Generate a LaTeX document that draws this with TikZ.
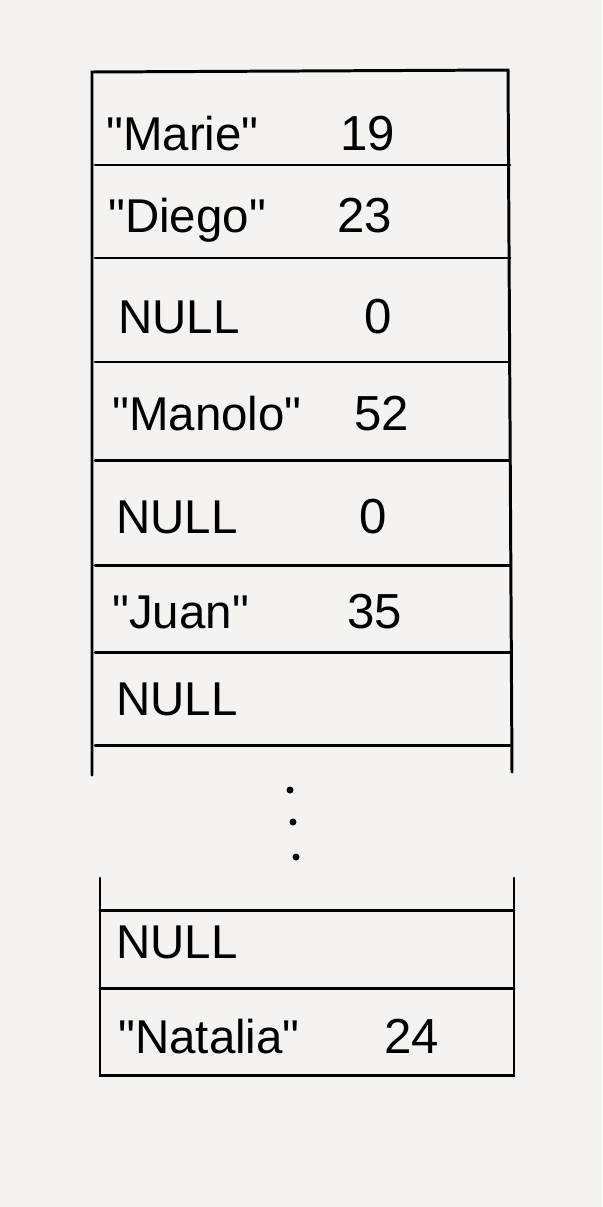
\documentclass[tikz,border=0pt]{standalone}
\usepackage{fontspec}
\setmainfont{Liberation Sans}
\definecolor{paper}{HTML}{F4F3EF}
\newcommand{\qt}[1]{\textquotedbl#1\textquotedbl}

\begin{document}
\begin{tikzpicture}[
    x=0.02cm, y=-0.02cm,
    rowline/.style={line width=1.7pt, line cap=round},
    field/.style={anchor=base west, inner sep=0pt, font=\fontsize{27}{30}\selectfont},
    value/.style={anchor=base, inner sep=0pt, font=\fontsize{28}{30}\selectfont}
]

% paper
\fill[paper] (0,0) rectangle (602,1207);

% upper part of the table
\draw[rowline] (92,775) -- (92,72) -- (508,70) -- (512,772);
\foreach \y in {165,258,362,460,565,652,745}
    \draw[rowline] (95,\y) -- (510,\y);

% lower part of the table
\draw[rowline] (100,878) -- (100,1075) -- (514,1075) -- (514,878);
\foreach \y in {910,988}
    \draw[rowline] (100,\y) -- (514,\y);

% gap
\foreach \y/\x in {790/290, 822/293, 857/296}
    \fill (\x,\y) circle (3.5);

% rows
\node[field] (name1) at (106,150) {\qt{Marie}};
\node[value] (age1) at (368,150) {19};
\node[field] (name2) at (108,232) {\qt{Diego}};
\node[value] (age2) at (365,232) {23};
\node[field] (name3) at (118,333) {NULL};
\node[value] (age3) at (378,333) {0};
\node[field] (name4) at (112,430) {\qt{Manolo}};
\node[value] (age4) at (382,430) {52};
\node[field] (name5) at (116,533) {NULL};
\node[value] (age5) at (373,533) {0};
\node[field] (name6) at (112,628) {\qt{Juan}};
\node[value] (age6) at (375,628) {35};
\node[field] (name7) at (116,715) {NULL};

\node[field] (name8) at (116,958) {NULL};
\node[field] (name9) at (118,1053) {\qt{Natalia}};
\node[value] (age9) at (412,1053) {24};

\end{tikzpicture}
\end{document}
